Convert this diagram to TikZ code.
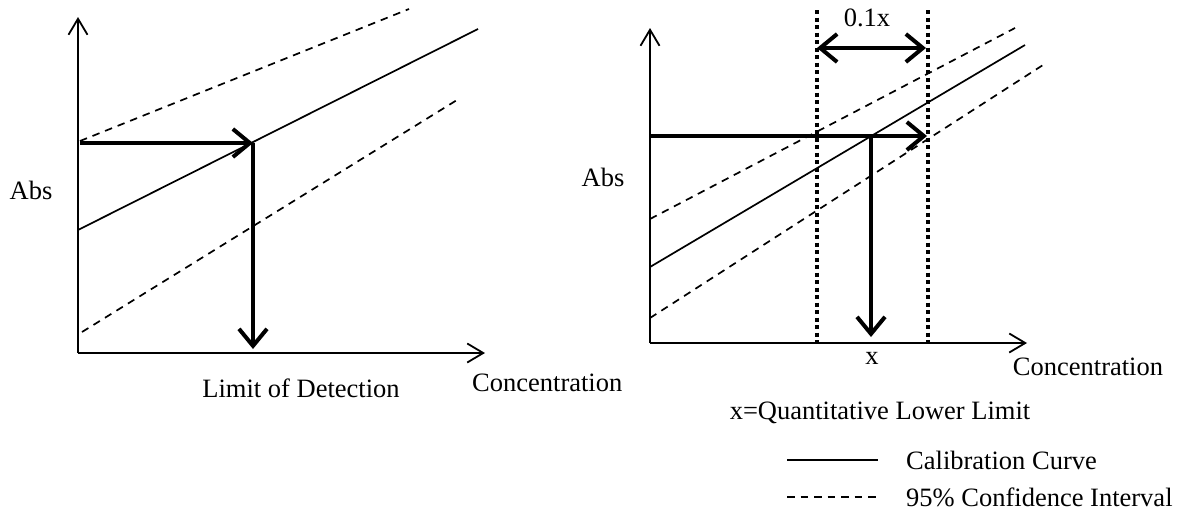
\documentclass[tikz,border=0pt]{standalone}
\usepackage{fontspec}
\setmainfont{Liberation Serif}
\usetikzlibrary{arrows.meta,positioning}
\tikzset{
    axisarrow/.style={-{Straight Barb[length=16pt, width=19pt]}, line width=1.8pt},
    calline/.style={line width=1.7pt},
    ciline/.style={line width=1.7pt, dash pattern=on 7.5pt off 6pt},
    readarrow/.style={-{Straight Barb[length=17pt, width=28pt]}, line width=4pt},
    spanarrow/.style={{Straight Barb[length=17pt, width=28pt]}-{Straight Barb[length=17pt, width=28pt]}, line width=4pt},
    limline/.style={line width=4pt, dash pattern=on 4pt off 3.5pt},
    lbl/.style={inner sep=0pt, font=\fontsize{26.5}{30}\selectfont}
}
\begin{document}
\begin{tikzpicture}[x=1pt, y=-1pt, node distance=28pt]
\useasboundingbox (0,0) rectangle (1185,517);
% left plot: limit of detection
\coordinate (lorig) at (78,353);
\coordinate (ltop) at (78,17);
\coordinate (lright) at (485,353);
\coordinate (lcalA) at (78,230);
\coordinate (lcalB) at (478,29);
\coordinate (lupA) at (80,141);
\coordinate (lupB) at (409,9);
\coordinate (llowA) at (82,332);
\coordinate (llowB) at (457,100);
\coordinate (lsig) at (80,143);
\coordinate (lhit) at (253,143);
\coordinate (lfoot) at (253,349);
\draw[axisarrow] (lorig) -- (ltop);
\draw[axisarrow] (lorig) -- (lright);
\draw[calline] (lcalA) -- (lcalB);
\draw[ciline] (lupA) -- (lupB);
\draw[ciline] (llowA) -- (llowB);
\draw[readarrow] (lsig) -- (lhit);
\draw[readarrow] (lhit) -- (lfoot);
\node[lbl] (labs) at (31,190) {Abs};
\node[lbl] (llod) at (301,388) {Limit of Detection};
\node[lbl, anchor=west] (lconc) at (472,383) {Concentration};

% right plot: quantitative lower limit
\coordinate (rorig) at (650,343);
\coordinate (rtop) at (650,28);
\coordinate (rright) at (1027,343);
\coordinate (rcalA) at (650,267);
\coordinate (rcalB) at (1025,45);
\coordinate (rupA) at (650,219);
\coordinate (rupB) at (1015,28);
\coordinate (rlowA) at (650,318);
\coordinate (rlowB) at (1043,65);
\coordinate (rsig) at (650,136);
\coordinate (rend) at (927,136);
\coordinate (rhit) at (871,136);
\coordinate (rfoot) at (871,337);
\coordinate (rlimAtop) at (817,10);
\coordinate (rlimAbot) at (817,343);
\coordinate (rlimBtop) at (928,10);
\coordinate (rlimBbot) at (928,343);
\coordinate (rspanA) at (817,48);
\coordinate (rspanB) at (926,48);
\draw[axisarrow] (rorig) -- (rtop);
\draw[axisarrow] (rorig) -- (rright);
\draw[calline] (rcalA) -- (rcalB);
\draw[ciline] (rupA) -- (rupB);
\draw[ciline] (rlowA) -- (rlowB);
\draw[limline] (rlimAtop) -- (rlimAbot);
\draw[limline] (rlimBtop) -- (rlimBbot);
\draw[readarrow] (rsig) -- (rend);
\draw[readarrow] (rhit) -- (rfoot);
\draw[spanarrow] (rspanA) -- (rspanB);
\node[lbl] (rspan) at (867,18) {0.1x};
\node[lbl] (rabs) at (603,177) {Abs};
\node[lbl] (rx) at (872,358) {x};
\node[lbl] (rconc) at (1088,367) {Concentration};
\node[lbl] (rqll) at (880,413) {x=Quantitative Lower Limit};

% legend
\coordinate (legcalA) at (787,460);
\coordinate (legcalB) at (878,460);
\coordinate (legciA) at (787,497);
\coordinate (legciB) at (880,497);
\draw[calline] (legcalA) -- (legcalB);
\draw[ciline] (legciA) -- (legciB);
\node[lbl, right=of legcalB] (legcal) {Calibration Curve};
\node[lbl, right=26pt of legciB] (legci) {95\% Confidence Interval};
\end{tikzpicture}
\end{document}
